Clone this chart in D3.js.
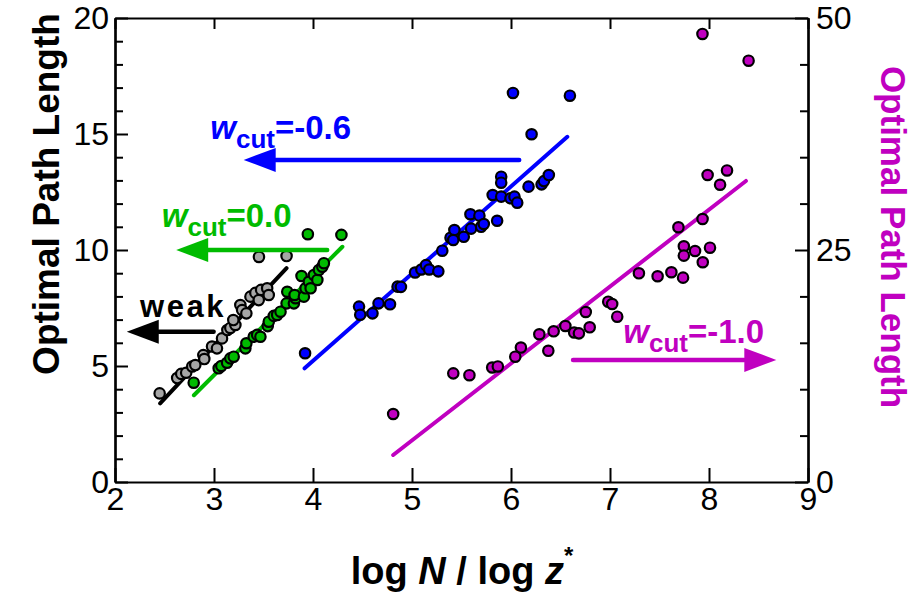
<!DOCTYPE html>
<html>
<head>
<meta charset="utf-8">
<script src="https://cdn.jsdelivr.net/npm/d3@7"></script>
<style>
  html, body { margin: 0; padding: 0; background: #fff; }
  svg { display: block; font-family: "Liberation Sans", Arial, sans-serif; }
</style>
</head>
<body>
<svg id="chart" width="923" height="602"></svg>
<script>
// ---- data: [log N / log z*, optimal path length] ----
const weakPoints = [
  [2.451, 3.82], [2.628, 4.48], [2.669, 4.66], [2.719, 4.71], [2.780, 4.98],
  [2.811, 5.04], [2.892, 5.47], [2.902, 5.30], [2.980, 5.84], [3.030, 5.76],
  [3.081, 6.19], [3.135, 6.55], [3.165, 6.64], [3.216, 6.77], [3.195, 6.98],
  [3.266, 7.63], [3.284, 7.41], [3.327, 7.27], [3.368, 7.99], [3.418, 8.15],
  [3.452, 7.84], [3.476, 8.28], [3.537, 8.35], [3.553, 8.06], [3.454, 9.70],
  [3.733, 9.74]
];
const cut00Points = [
  [2.795, 4.28], [3.047, 4.90], [3.074, 5.00], [3.132, 5.14], [3.165, 5.33],
  [3.199, 5.40], [3.317, 5.76], [3.327, 5.98], [3.401, 6.26], [3.436, 6.34],
  [3.469, 6.26], [3.543, 6.72], [3.553, 6.91], [3.604, 7.16], [3.638, 7.20],
  [3.672, 7.34], [3.733, 7.70], [3.740, 8.20], [3.807, 7.70], [3.824, 7.92],
  [3.814, 8.06], [3.884, 8.88], [3.908, 7.99], [3.925, 8.35], [3.958, 8.63],
  [3.976, 8.35], [4.009, 8.92], [4.044, 8.71], [4.060, 9.14], [4.094, 9.28],
  [4.110, 9.43], [3.948, 10.68], [4.287, 10.65]
];
const cut06Points = [
  [3.920, 5.55], [4.465, 7.56], [4.477, 7.21], [4.601, 7.27], [4.662, 7.70],
  [4.778, 7.66], [4.854, 8.42], [4.888, 8.41], [5.031, 9.03], [5.095, 9.16],
  [5.141, 9.35], [5.174, 9.16], [5.266, 9.08], [5.306, 9.97], [5.389, 10.53],
  [5.428, 10.86], [5.417, 10.43], [5.523, 10.57], [5.590, 11.54], [5.597, 10.92],
  [5.681, 11.48], [5.698, 11.00], [5.725, 11.12], [5.860, 11.26], [5.815, 12.37],
  [5.901, 12.30], [5.901, 13.16], [5.901, 12.90], [5.995, 12.23], [6.035, 12.30],
  [6.063, 12.04], [6.177, 12.73], [6.309, 12.83], [6.333, 12.97], [6.382, 13.23],
  [6.208, 14.99], [6.020, 16.77], [6.595, 16.65]
];
// plotted against the right-hand axis (0-50)
const cut10Points = [
  [4.810, 7.33], [5.417, 11.71], [5.580, 11.51], [5.810, 12.34], [5.867, 12.45],
  [6.043, 13.50], [6.100, 14.49], [6.286, 15.92], [6.377, 14.14], [6.431, 16.24],
  [6.549, 16.81], [6.638, 16.11], [6.686, 16.02], [6.755, 18.32], [6.795, 16.67],
  [6.982, 19.43], [7.022, 19.18], [7.073, 17.81], [7.292, 22.49], [7.481, 22.17],
  [7.620, 22.60], [7.738, 22.02], [7.746, 25.40], [7.746, 24.39], [7.691, 27.45],
  [7.859, 24.89], [8.010, 25.25], [7.937, 23.68], [7.935, 28.34], [7.986, 33.08],
  [8.182, 33.57], [8.112, 32.03], [7.934, 48.28], [8.400, 45.40]
];

// straight-line fits: [[x0, y0], [x1, y1]]
const weakFit  = [[2.456, 3.39], [3.733, 9.22]];
const cut00Fit = [[2.797, 3.74], [4.297, 10.14]];
const cut06Fit = [[3.915, 4.90], [6.569, 14.88]];
const cut10Fit = [[4.810, 2.91], [8.373, 32.44]];   // right axis

// arrows: [x from, x tip, y]
const weakArrow  = [2.996, 2.119, 6.48];
const cut00Arrow = [4.143, 2.618, 10.0];
const cut06Arrow = [6.083, 3.300, 13.88];
const cut10Arrow = [6.627, 8.680, 13.15];           // right axis

// tick values
const xTicks = [2, 3, 4, 5, 6, 7, 8, 9];
const yLeftTicks = [0, 5, 10, 15, 20];
const yLeftMinor = d3.range(0, 21, 1).filter(v => v % 5 !== 0);
const yRightTicks = [0, 25, 50];
const yRightMinor = d3.range(0, 51, 5).filter(v => v % 25 !== 0);

// ---- layout ----
const svg = d3.select("#chart");
const plot = { left: 115, right: 808, top: 18, bottom: 482 };

const x = d3.scaleLinear().domain([2, 9]).range([plot.left, plot.right]);
const yL = d3.scaleLinear().domain([0, 20]).range([plot.bottom, plot.top]);
const yR = d3.scaleLinear().domain([0, 50]).range([plot.bottom, plot.top]);

const GRAY = "#a6a6a6", GREEN = "#00bb00", BLUE = "#0000ff", MAGENTA = "#c000c0";

// ---- axes ----
const tickFont = 32;
function styleAxis(g) {
  g.selectAll(".domain").attr("stroke", "#000").attr("stroke-width", 2.2);
  g.selectAll(".tick line").attr("stroke", "#000").attr("stroke-width", 2);
  g.selectAll(".tick text").attr("fill", "#000").attr("font-size", tickFont)
    .attr("font-family", "Liberation Sans, Arial, sans-serif");
}

svg.append("g").attr("transform", `translate(0,${plot.bottom})`)
  .call(d3.axisBottom(x).tickValues(xTicks).tickSizeInner(-14).tickSizeOuter(0).tickPadding(5).tickFormat(d3.format("d")))
  .call(styleAxis);
svg.append("g").attr("transform", `translate(0,${plot.top})`)
  .call(d3.axisTop(x).tickValues(xTicks).tickSizeInner(-11).tickSizeOuter(0).tickFormat(""))
  .call(styleAxis);

svg.append("g").attr("transform", `translate(${plot.left},0)`)
  .call(d3.axisLeft(yL).tickValues(yLeftTicks).tickSizeInner(-13).tickSizeOuter(0).tickPadding(6).tickFormat(d3.format("d")))
  .call(styleAxis);
svg.append("g").attr("transform", `translate(${plot.left},0)`)
  .call(d3.axisLeft(yL).tickValues(yLeftMinor).tickSizeInner(-8).tickSizeOuter(0).tickFormat(""))
  .call(styleAxis);

svg.append("g").attr("transform", `translate(${plot.right},0)`)
  .call(d3.axisRight(yR).tickValues(yRightTicks).tickSizeInner(-13).tickSizeOuter(0).tickPadding(8).tickFormat(d3.format("d")))
  .call(styleAxis);
svg.append("g").attr("transform", `translate(${plot.right},0)`)
  .call(d3.axisRight(yR).tickValues(yRightMinor).tickSizeInner(-8).tickSizeOuter(0).tickFormat(""))
  .call(styleAxis);

// ---- axis titles ----
svg.append("text")
  .attr("transform", "translate(59,194) rotate(-90)")
  .attr("text-anchor", "middle").attr("font-weight", "bold").attr("font-size", 37)
  .attr("fill", "#000").text("Optimal Path Length");

svg.append("text")
  .attr("transform", "translate(881,237) rotate(90)")
  .attr("text-anchor", "middle").attr("font-weight", "bold").attr("font-size", 35)
  .attr("fill", MAGENTA).text("Optimal Path Length");

const xt = svg.append("text")
  .attr("x", 462).attr("y", 584)
  .attr("text-anchor", "middle").attr("font-weight", "bold").attr("font-size", 38)
  .attr("fill", "#000");
xt.append("tspan").text("log ");
xt.append("tspan").attr("font-style", "italic").text("N");
xt.append("tspan").text(" / log ");
xt.append("tspan").attr("font-style", "italic").text("z");
xt.append("tspan").attr("font-size", 24).attr("dy", -20).text("*");

// ---- fit lines ----
function fitLine(seg, yScale, color) {
  svg.append("line")
    .attr("x1", x(seg[0][0])).attr("y1", yScale(seg[0][1]))
    .attr("x2", x(seg[1][0])).attr("y2", yScale(seg[1][1]))
    .attr("stroke", color).attr("stroke-width", 4).attr("stroke-linecap", "round");
}
fitLine(weakFit, yL, "#000");
fitLine(cut00Fit, yL, GREEN);
fitLine(cut06Fit, yL, BLUE);
fitLine(cut10Fit, yR, MAGENTA);

// ---- points ----
function scatter(points, yScale, fill) {
  svg.append("g").selectAll("circle").data(points).join("circle")
    .attr("cx", d => x(d[0])).attr("cy", d => yScale(d[1]))
    .attr("r", 5.2).attr("fill", fill).attr("stroke", "#000").attr("stroke-width", 2.2);
}
scatter(weakPoints, yL, GRAY);
scatter(cut00Points, yL, GREEN);
scatter(cut06Points, yL, BLUE);
scatter(cut10Points, yR, MAGENTA);

// ---- arrows ----
function arrow(a, yScale, color) {
  const x0 = x(a[0]), x1 = x(a[1]), yy = yScale(a[2]);
  const dir = Math.sign(x1 - x0), headLen = 32, headHalf = 12;
  const xb = x1 - dir * headLen;
  svg.append("line").attr("x1", x0).attr("y1", yy).attr("x2", xb).attr("y2", yy)
    .attr("stroke", color).attr("stroke-width", 4.5).attr("stroke-linecap", "round");
  svg.append("path")
    .attr("d", `M${x1},${yy}L${xb},${yy - headHalf}L${xb},${yy + headHalf}Z`)
    .attr("fill", color);
}
arrow(weakArrow, yL, "#000");
arrow(cut00Arrow, yL, GREEN);
arrow(cut06Arrow, yL, BLUE);
arrow(cut10Arrow, yR, MAGENTA);

// ---- series labels ----
function cutLabel(xv, yv, yScale, value, color) {
  const t = svg.append("text").attr("x", x(xv)).attr("y", yScale(yv))
    .attr("font-weight", "bold").attr("font-size", 33).attr("fill", color);
  t.append("tspan").attr("font-style", "italic").text("w");
  t.append("tspan").attr("font-size", 26).attr("dy", 9).text("cut");
  t.append("tspan").attr("dy", -9).text("=" + value);
}
cutLabel(2.963, 14.77, yL, "-0.6", BLUE);
cutLabel(2.473, 11.0, yL, "0.0", GREEN);
cutLabel(7.134, 14.95, yR, "-1.0", MAGENTA);

svg.append("text").attr("x", x(2.253)).attr("y", yL(7.11))
  .attr("font-weight", "bold").attr("font-size", 31).attr("letter-spacing", 2.5)
  .attr("fill", "#000").text("weak");
</script>
</body>
</html>
